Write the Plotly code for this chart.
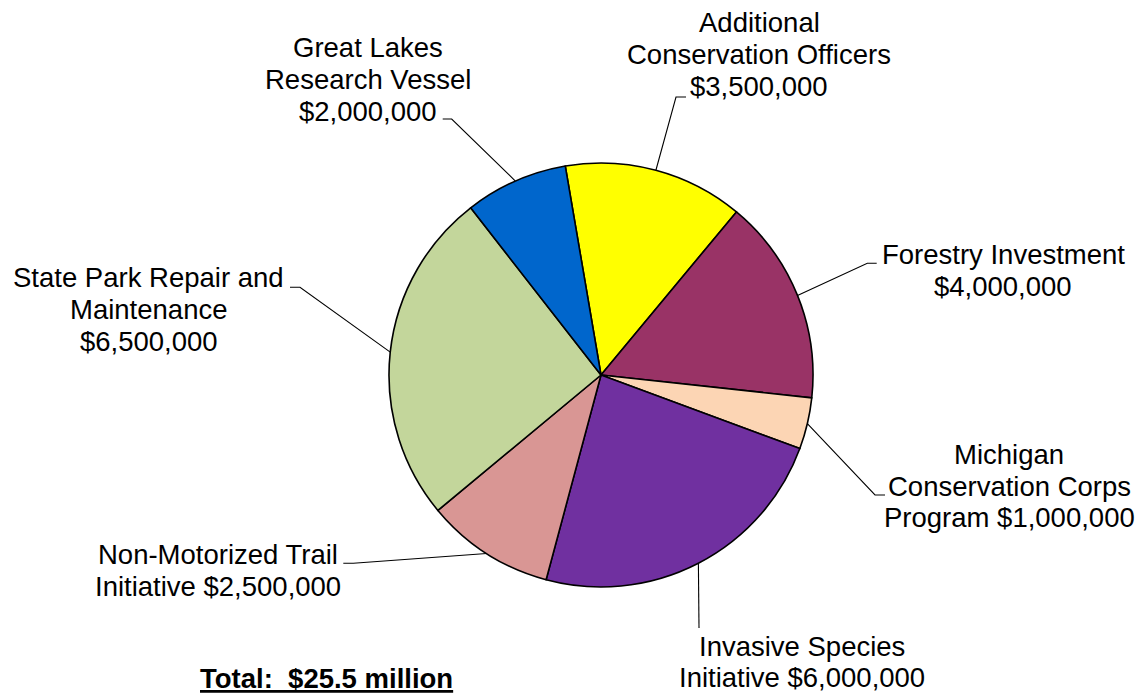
import math
import plotly.graph_objects as go

# Canvas size in pixels
W, H = 1145, 698

# ---- data ----
programs = [
    "Additional Conservation Officers",
    "Forestry Investment",
    "Michigan Conservation Corps Program",
    "Invasive Species Initiative",
    "Non-Motorized Trail Initiative",
    "State Park Repair and Maintenance",
    "Great Lakes Research Vessel",
]
amounts = [3_500_000, 4_000_000, 1_000_000, 6_000_000, 2_500_000, 6_500_000, 2_000_000]
label_lines = [
    ["Additional", "Conservation Officers", "{amt}"],
    ["Forestry Investment", "{amt}"],
    ["Michigan", "Conservation Corps", "Program {amt}"],
    ["Invasive Species", "Initiative {amt}"],
    ["Non-Motorized Trail", "Initiative {amt}"],
    ["State Park Repair and", "Maintenance", "{amt}"],
    ["Great Lakes", "Research Vessel", "{amt}"],
]

# ---- styling ----
slice_colors = ["#FFFF00", "#993366", "#FCD5B4", "#7030A0", "#D99694", "#C3D69B", "#0066CC"]
FONT = "Liberation Sans, Arial, sans-serif"
FONT_SIZE = 27.5
LINE_GAP = 31.7          # baseline-to-baseline spacing of label lines (px)
BASELINE_SHIFT = 9.0     # text centre sits this far above its baseline (px)

# pie geometry (px)
CX, CY, R = 601.0, 375.0, 212.0
ROTATION = -9.7

# label placement (px): centre x, first baseline y, leader elbow, leader end
label_layout = [
    (759.0, 31.7, (676.0, 97.0), (686.0, 97.0)),
    (1003.3, 263.3, (867.3, 263.3), (876.7, 263.3)),
    (1009.3, 463.3, (875.0, 495.0), (885.0, 495.0)),
    (801.5, 655.0, (699.0, 628.0), (699.0, 628.0)),
    (217.6, 563.3, (353.3, 563.3), (343.3, 563.3)),
    (148.8, 286.7, (300.0, 287.3), (290.0, 287.3)),
    (368.0, 57.0, (451.7, 119.0), (442.7, 119.0)),
]
TOTAL_POS = (326.7, 687.3)


def px(x):
    return x / W


def py(y):
    return 1 - y / H


fig = go.Figure(
    go.Pie(
        labels=programs,
        values=amounts,
        sort=False,
        direction="clockwise",
        rotation=ROTATION,
        marker=dict(colors=slice_colors, line=dict(color="black", width=1.6)),
        textinfo="none",
        hovertemplate="%{label}<br>$%{value:,.0f}<extra></extra>",
        domain=dict(x=[px(CX - R), px(CX + R)], y=[py(CY + R), py(CY - R)]),
        showlegend=False,
    )
)

total = sum(amounts)
annotations = []
shapes = []
cum = 0.0
for name, val, lines, (lx, ly, elbow, end) in zip(programs, amounts, label_lines, label_layout):
    # leader line from the slice's mid-angle on the rim to the label
    mid = math.radians(ROTATION + (cum + val / 2) / total * 360.0)
    cum += val
    sx, sy = CX + R * math.sin(mid), CY - R * math.cos(mid)
    path = f"M {px(sx)} {py(sy)} L {px(elbow[0])} {py(elbow[1])} L {px(end[0])} {py(end[1])}"
    shapes.append(dict(type="path", xref="paper", yref="paper", path=path,
                       line=dict(color="black", width=1.1)))

    amt = f"${val:,.0f}"
    for i, line in enumerate(lines):
        annotations.append(dict(
            x=px(lx), y=py(ly + i * LINE_GAP - BASELINE_SHIFT),
            xref="paper", yref="paper", xanchor="center", yanchor="middle",
            text=line.format(amt=amt), showarrow=False,
            font=dict(family=FONT, size=FONT_SIZE, color="black"),
        ))

annotations.append(dict(
    x=px(TOTAL_POS[0]), y=py(TOTAL_POS[1] - BASELINE_SHIFT),
    xref="paper", yref="paper", xanchor="center", yanchor="middle",
    text=f"<b><u>Total:\u00a0 ${total / 1e6:.1f} million</u></b>", showarrow=False,
    font=dict(family=FONT, size=FONT_SIZE, color="black"),
))

fig.update_layout(
    width=W, height=H,
    margin=dict(l=0, r=0, t=0, b=0),
    paper_bgcolor="white", plot_bgcolor="white",
    annotations=annotations, shapes=shapes,
)

fig.write_html("out.html")
